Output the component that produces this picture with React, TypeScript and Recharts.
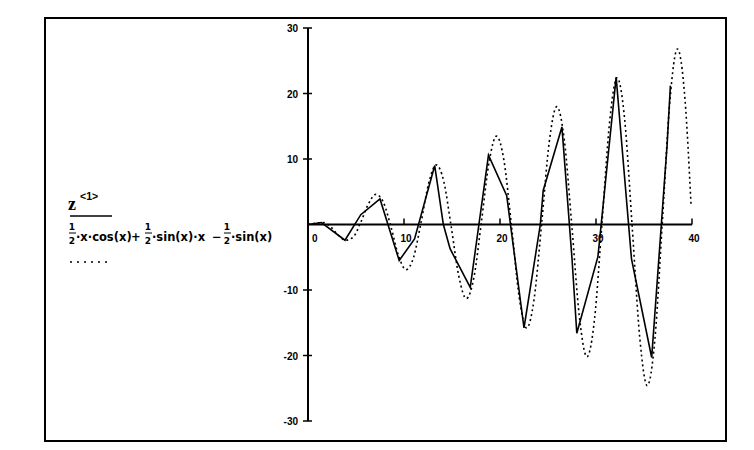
import { LineChart, Line, XAxis, YAxis, ReferenceLine } from 'recharts';

// z<1> : numerical solution (polyline vertices)
const Z1_X = [0, 1.4, 3.85, 5.5, 7.5, 9.5, 11.1, 13.2, 14.1, 14.8, 16.9, 18.8, 20.7, 22.5, 24.2, 24.5, 26.45, 27.5, 28.0, 30.2, 31.25, 32.1, 32.5, 33.7, 35.8, 37.4, 37.75];
const Z1_Y = [0, 0.3, -2.4, 1.5, 3.9, -5.5, -2.2, 9.0, 0, -3.7, -9.6, 10.6, 4.4, -15.8, 0, 5.2, 14.9, -5.2, -16.6, -4.9, 10.3, 22.5, 15.5, -5.3, -20.3, 12.0, 21.2];

// 1/2·x·cos(x) + 1/2·sin(x)·x − 1/2·sin(x) : dotted curve, sampled off the plot
const F_X = [0, 0.79, 1.57, 2.36, 3.14, 3.93, 4.71, 5.5, 6.28, 7.07, 7.85, 8.64, 9.42, 10.21, 11.0, 11.78, 12.57, 13.35, 14.14, 14.92, 15.71, 16.49, 17.28, 18.06, 18.85, 19.63, 20.42, 21.21, 21.99, 22.78, 23.56, 24.35, 25.13, 25.92, 26.7, 27.49, 28.27, 29.06, 29.85, 30.63, 31.42, 32.2, 32.99, 33.77, 34.56, 35.34, 36.13, 36.91, 37.7, 38.48, 39.27, 39.9];
const F_Y = [0, 0.2, 0.3, -0.35, -1.6, -2.4, -1.9, 0.35, 3.1, 4.6, 3.4, -0.35, -4.7, -6.9, -5.0, 0.35, 6.3, 9.1, 6.6, -0.35, -7.9, -11.3, -8.1, 0.35, 9.4, 13.5, 9.7, -0.35, -11.0, -15.8, -11.3, 0.35, 12.6, 18.0, 12.9, -0.35, -14.1, -20.2, -14.4, 0.35, 15.7, 22.4, 16.0, -0.35, -17.3, -24.6, -17.6, 0.35, 18.9, 26.8, 19.1, 3.0];

const X_TICKS = [0, 10, 20, 30, 40];
const Y_TICKS = [-30, -20, -10, 10, 20, 30];

const z1Data = Z1_X.map((x, i) => ({ x, y: Z1_Y[i] }));
const fData = F_X.map((x, i) => ({ x, y: F_Y[i] }));

const W = 754;
const H = 450;
const MARGIN = { top: 28, right: 62, bottom: 9, left: 288 };
const PLOT_LEFT = 308;
const PLOT_BOTTOM = 421;
const ZERO_Y = MARGIN.top + (PLOT_BOTTOM - MARGIN.top) / 2;
const TICK_FONT = { fontFamily: '"Liberation Sans", Arial, sans-serif', fontSize: 10, fontWeight: 700 };

const XTick = ({ x, payload }: any) => {
  const v = payload.value;
  return (
    <g>
      <line x1={x} x2={x} y1={ZERO_Y - 6} y2={ZERO_Y} stroke="#000" strokeWidth={1.5} />
      <text x={v === 0 ? x + 4 : x + 2} y={ZERO_Y + 17} textAnchor={v === 0 ? 'start' : 'middle'} fill="#000" style={TICK_FONT}>
        {v}
      </text>
    </g>
  );
};

const YTick = ({ y, payload }: any) => (
  <g>
    <line x1={PLOT_LEFT - 5} x2={PLOT_LEFT + 4} y1={y} y2={y} stroke="#000" strokeWidth={1.5} />
    <text x={PLOT_LEFT - 10} y={y + 4} textAnchor="end" fill="#000" style={TICK_FONT}>
      {payload.value}
    </text>
  </g>
);

const FORM = { fontFamily: '"DejaVu Sans", sans-serif', fontSize: 11.5, fontWeight: 700 };
const FRAC = { fontFamily: '"DejaVu Sans", sans-serif', fontSize: 9, fontWeight: 700 };

const Half = ({ x }: { x: number }) => (
  <g>
    <text x={x + 3} y={230} textAnchor="middle" style={FRAC}>1</text>
    <line x1={x} x2={x + 7} y1={233} y2={233} stroke="#000" strokeWidth={1} />
    <text x={x + 3} y={244} textAnchor="middle" style={FRAC}>2</text>
  </g>
);

function Legend() {
  return (
    <svg width={W} height={H} style={{ position: 'absolute', left: 0, top: 0, pointerEvents: 'none' }}>
      <rect x={45} y={18} width={681} height={423} fill="none" stroke="#000" strokeWidth={2} />
      <text x={68} y={210} style={{ fontFamily: '"Liberation Serif", serif', fontSize: 18, fontWeight: 700 }}>z</text>
      <text x={80} y={200} style={{ fontFamily: '"Liberation Sans", sans-serif', fontSize: 10.5, fontWeight: 700 }}>&lt;1&gt;</text>
      <line x1={70} x2={112} y1={216} y2={216} stroke="#000" strokeWidth={1.5} />
      <Half x={69} />
      <text x={76} y={241} style={FORM}>·x·cos(x)</text>
      <text x={131} y={241} style={FORM}>+</text>
      <Half x={145} />
      <text x={152} y={241} style={FORM}>·sin(x)·x</text>
      <text x={212} y={241} style={FORM}>−</text>
      <Half x={224} />
      <text x={231} y={241} style={FORM}>·sin(x)</text>
      <line x1={70} x2={108} y1={262} y2={262} stroke="#000" strokeWidth={1.5} strokeDasharray="2 5" />
    </svg>
  );
}

export default function App() {
  return (
    <div style={{ position: 'absolute', left: 0, top: 0, width: W, height: H, background: '#fff' }}>
      <LineChart width={W} height={H} margin={MARGIN}>
        <XAxis type="number" dataKey="x" domain={[0, 40]} ticks={X_TICKS} height={20} axisLine={false} tickLine={false} tick={(p: any) => <XTick {...p} />} interval={0} allowDataOverflow />
        <YAxis type="number" dataKey="y" domain={[-30, 30]} ticks={Y_TICKS} width={20} axisLine={false} tickLine={false} tick={(p: any) => <YTick {...p} />} interval={0} allowDataOverflow />
        <ReferenceLine y={0} stroke="#000" strokeWidth={2} />
        <ReferenceLine x={0} stroke="#000" strokeWidth={2} />
        <Line data={fData} dataKey="y" type="monotone" stroke="#000" strokeWidth={1.6} strokeDasharray="2 3" dot={false} isAnimationActive={false} />
        <Line data={z1Data} dataKey="y" type="linear" stroke="#000" strokeWidth={1.6} dot={false} isAnimationActive={false} />
      </LineChart>
      <Legend />
    </div>
  );
}
